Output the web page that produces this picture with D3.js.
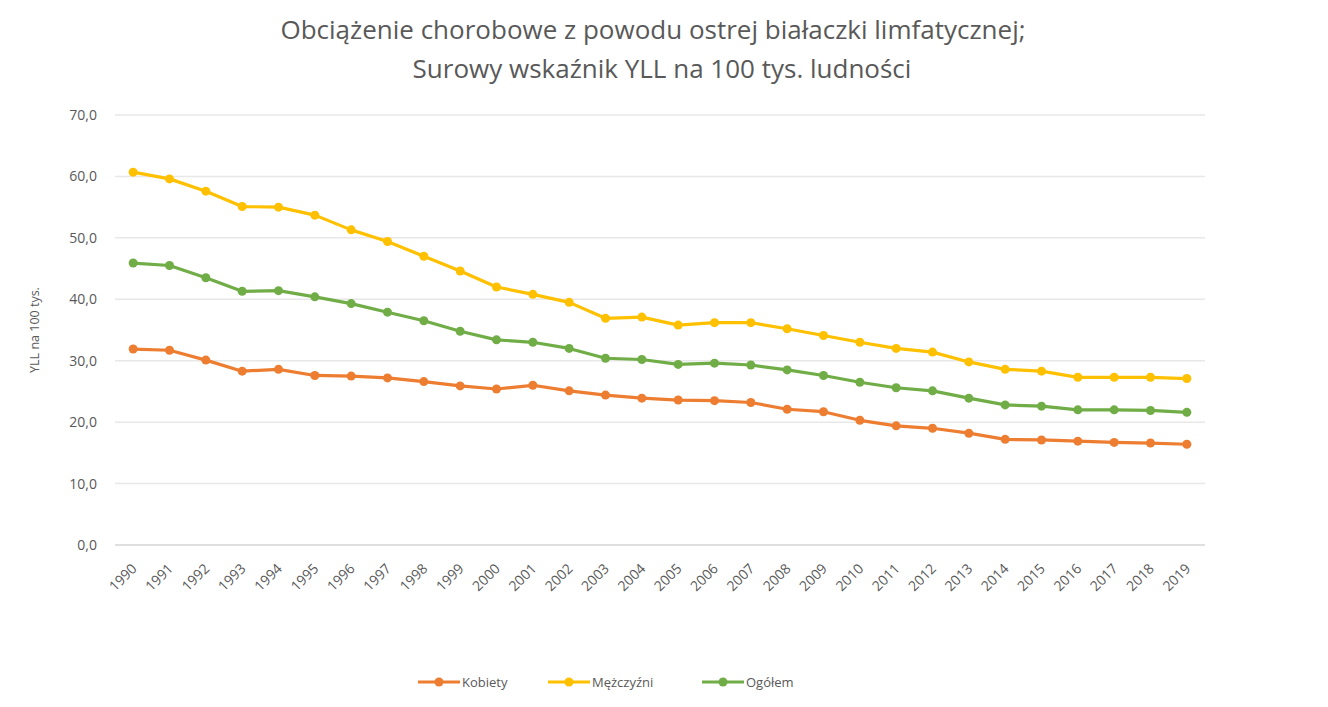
<!DOCTYPE html>
<html>
<head>
<meta charset="utf-8">
<script src="https://cdn.jsdelivr.net/npm/d3@7"></script>
<style>
  body { margin: 0; background: #fff; }
  text { font-family: "Open Sans", "Liberation Sans", sans-serif; }
</style>
</head>
<body>
<div id="container"></div>
<script>
const years = ["1990","1991","1992","1993","1994","1995","1996","1997","1998","1999",
  "2000","2001","2002","2003","2004","2005","2006","2007","2008","2009",
  "2010","2011","2012","2013","2014","2015","2016","2017","2018","2019"];

const kobiety = [31.9, 31.7, 30.1, 28.3, 28.6, 27.6, 27.5, 27.2, 26.6, 25.9,
  25.4, 26.0, 25.1, 24.4, 23.9, 23.6, 23.5, 23.2, 22.1, 21.7,
  20.3, 19.4, 19.0, 18.2, 17.2, 17.1, 16.9, 16.7, 16.6, 16.4];

const mezczyzni = [60.7, 59.6, 57.6, 55.1, 55.0, 53.7, 51.3, 49.4, 47.0, 44.6,
  42.0, 40.8, 39.5, 36.9, 37.1, 35.8, 36.2, 36.2, 35.2, 34.1,
  33.0, 32.0, 31.4, 29.8, 28.6, 28.3, 27.3, 27.3, 27.3, 27.1];

const ogolem = [45.9, 45.5, 43.5, 41.3, 41.4, 40.4, 39.3, 37.9, 36.5, 34.8,
  33.4, 33.0, 32.0, 30.4, 30.2, 29.4, 29.6, 29.3, 28.5, 27.6,
  26.5, 25.6, 25.1, 23.9, 22.8, 22.6, 22.0, 22.0, 21.9, 21.6];

const yTicks = [0, 10, 20, 30, 40, 50, 60, 70];

const seriesNames = ["Kobiety", "Mężczyźni", "Ogółem"];
const seriesData = [kobiety, mezczyzni, ogolem];
const colors = ["#ED7D31", "#FFC000", "#70AD47"];

const w = 1328;
const h = 707;
const plotLeft = 115, plotRight = 1205, plotTop = 115, plotBottom = 545;

const svg = d3.select("#container")
  .append("svg")
  .attr("width", w)
  .attr("height", h);

// title
svg.append("text")
  .attr("x", 653)
  .attr("y", 39)
  .attr("text-anchor", "middle")
  .style("font-size", "26px")
  .style("fill", "#595959")
  .text("Obciążenie chorobowe z powodu ostrej białaczki limfatycznej;");
svg.append("text")
  .attr("x", 662)
  .attr("y", 78)
  .attr("text-anchor", "middle")
  .style("font-size", "26px")
  .style("fill", "#595959")
  .text("Surowy wskaźnik YLL na 100 tys. ludności");

const xScale = d3.scaleBand()
  .domain(years)
  .range([plotLeft, plotRight]);

const yScale = d3.scaleLinear()
  .domain([0, 70])
  .range([plotBottom, plotTop]);

// gridlines
svg.append("g")
  .selectAll("line")
  .data(yTicks)
  .enter()
  .append("line")
  .attr("x1", plotLeft)
  .attr("x2", plotRight)
  .attr("y1", (d) => yScale(d))
  .attr("y2", (d) => yScale(d))
  .attr("stroke", (d) => d === 0 ? "#d4d4d4" : "#e8e8e8")
  .attr("stroke-width", 1.5);

const yAxis = d3.axisLeft(yScale)
  .tickValues(yTicks)
  .tickSize(0)
  .tickPadding(18)
  .tickFormat((d) => d3.format(".1f")(d).replace(".", ","));
svg.append("g")
  .attr("transform", "translate(" + plotLeft + ", 0)")
  .call(yAxis)
  .call((g) => g.select(".domain").remove())
  .selectAll("text")
  .style("font-size", "14px")
  .style("fill", "#595959");

const xAxis = d3.axisBottom(xScale).tickSize(0);
svg.append("g")
  .attr("transform", "translate(0, " + plotBottom + ")")
  .call(xAxis)
  .call((g) => g.select(".domain").remove())
  .selectAll("text")
  .style("font-size", "14px")
  .style("fill", "#595959")
  .attr("text-anchor", "end")
  .attr("y", 0)
  .attr("dy", "0.35em")
  .attr("transform", "translate(1, 21) rotate(-45)");

// y axis title
svg.append("text")
  .attr("transform", "translate(39, 330) rotate(-90)")
  .attr("text-anchor", "middle")
  .style("font-size", "12.5px")
  .style("fill", "#595959")
  .text("YLL na 100 tys.");

const line = d3.line()
  .x((d, i) => xScale(years[i]) + xScale.bandwidth() / 2)
  .y((d) => yScale(d));

seriesData.forEach((vals, k) => {
  svg.append("path")
    .datum(vals)
    .attr("d", line)
    .attr("fill", "none")
    .attr("stroke", colors[k])
    .attr("stroke-width", 3.2)
    .attr("stroke-linejoin", "round");
  svg.append("g")
    .selectAll("circle")
    .data(vals)
    .enter()
    .append("circle")
    .attr("cx", (d, i) => xScale(years[i]) + xScale.bandwidth() / 2)
    .attr("cy", (d) => yScale(d))
    .attr("r", 4.5)
    .attr("fill", colors[k]);
});

// legend
const legendX = [418, 548, 702];
const legend = svg.append("g");
seriesNames.forEach((name, k) => {
  const g = legend.append("g").attr("transform", "translate(" + legendX[k] + ", 682)");
  g.append("line")
    .attr("x1", 0).attr("x2", 42)
    .attr("stroke", colors[k])
    .attr("stroke-width", 3.2);
  g.append("circle")
    .attr("cx", 21).attr("r", 4.5)
    .attr("fill", colors[k]);
  g.append("text")
    .attr("x", 44)
    .attr("y", 4.5)
    .style("font-size", "13px")
    .style("fill", "#595959")
    .text(name);
});
</script>
</body>
</html>
